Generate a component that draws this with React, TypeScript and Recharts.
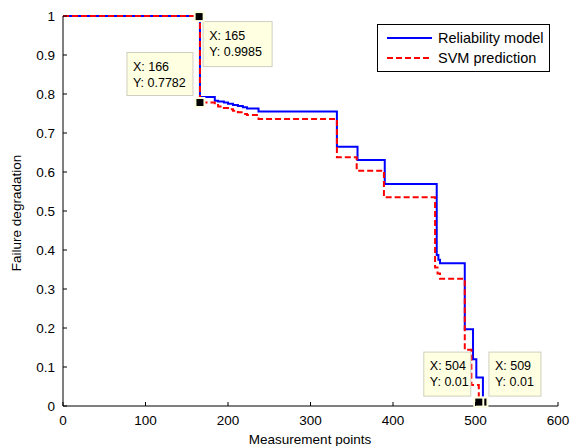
import React from 'react'
import { ComposedChart, Line, Scatter, XAxis, YAxis, Legend, Label } from 'recharts'

const reliabilityX = [0, 165, 166, 184, 188, 195, 200, 206, 212, 218, 223, 237, 332, 357, 390, 453, 455, 457, 487, 497, 501, 509]
const reliabilityY = [1, 0.9985, 0.792, 0.783, 0.781, 0.778, 0.775, 0.772, 0.769, 0.766, 0.763, 0.755, 0.665, 0.631, 0.569, 0.387, 0.375, 0.366, 0.197, 0.12, 0.073, 0.01]

const svmX = [0, 165, 166, 184, 188, 195, 200, 206, 212, 218, 223, 237, 332, 356, 389, 451, 454, 457, 487, 495, 504]
const svmY = [1, 0.9985, 0.7782, 0.772, 0.768, 0.764, 0.761, 0.757, 0.753, 0.749, 0.746, 0.736, 0.638, 0.603, 0.535, 0.355, 0.34, 0.326, 0.144, 0.054, 0.01]

// data tips
const tipX = [165, 166, 509, 504]
const tipY = [0.9985, 0.7782, 0.01, 0.01]

const xTicks = [0, 100, 200, 300, 400, 500, 600]
const xTickLabels = ['0', '100', '200', '300', '400', '500', '600']
const yTicks = [0, 0.1, 0.2, 0.3, 0.4, 0.5, 0.6, 0.7, 0.8, 0.9, 1]
const yTickLabels = ['0', '0.1', '0.2', '0.3', '0.4', '0.5', '0.6', '0.7', '0.8', '0.9', '1']

const seriesNames = ['Reliability model', 'SVM prediction']
const seriesColors = ['#0000ff', '#ff0000']

const reliabilityData = reliabilityX.map((x, i) => ({ x, y: reliabilityY[i] }))
const svmData = svmX.map((x, i) => ({ x, y: svmY[i] }))
const tipData = tipX.map((x, i) => ({ x, y: tipY[i], idx: i }))

const FONT = 'Liberation Sans, Arial, sans-serif'

// box placement of each data tip relative to its marker
const tipBoxes = [
  { dx: 4, dy: 5, w: 69, h: 45 },
  { dx: -73, dy: -50, w: 66, h: 43 },
  { dx: 6, dy: -50, w: 52, h: 44 },
  { dx: -55, dy: -50, w: 47, h: 44 },
]

function BottomTick({ x, y, payload }: any) {
  const i = xTicks.indexOf(payload.value)
  return (
    <g>
      <line x1={x} y1={y} x2={x} y2={y - 4} stroke="#000" />
      <text x={x} y={y + 19} textAnchor="middle" fontSize={13.5} fontFamily={FONT} fill="#000">
        {xTickLabels[i]}
      </text>
    </g>
  )
}

function TopTick({ x, y }: any) {
  return <line x1={x} y1={y} x2={x} y2={y + 4} stroke="#000" />
}

function LeftTick({ x, y, payload }: any) {
  const i = yTicks.indexOf(payload.value)
  return (
    <g>
      <line x1={x} y1={y} x2={x + 4} y2={y} stroke="#000" />
      <text x={x - 8} y={y + 5} textAnchor="end" fontSize={13.5} fontFamily={FONT} fill="#000">
        {yTickLabels[i]}
      </text>
    </g>
  )
}

function RightTick({ x, y }: any) {
  return <line x1={x} y1={y} x2={x - 4} y2={y} stroke="#000" />
}

function DataTip({ cx, cy, payload }: any) {
  const b = tipBoxes[payload.idx]
  const bx = cx + b.dx
  const by = cy + b.dy
  return (
    <g>
      <rect x={bx} y={by} width={b.w} height={b.h} fill="#ffffe1" stroke="#cfcfbf" />
      <text x={bx + 6} y={by + 18} fontSize={12.5} fontFamily={FONT} fill="#000">{'X: ' + payload.x}</text>
      <text x={bx + 6} y={by + 34} fontSize={12.5} fontFamily={FONT} fill="#000">{'Y: ' + payload.y}</text>
      <rect x={cx - 4.5} y={cy - 4.5} width={9} height={9} fill="#000" stroke="#ffffe1" strokeWidth={2} />
    </g>
  )
}

function LegendBox() {
  return (
    <div style={{ width: 173, height: 48, border: '1px solid #000', background: '#fff', boxSizing: 'border-box', fontFamily: FONT, fontSize: 14.5 }}>
      {seriesNames.map((name, i) => (
        <div key={name} style={{ display: 'flex', alignItems: 'center', height: 20, marginTop: i === 0 ? 3 : 0 }}>
          <svg width={56} height={20}>
            <line x1={9} y1={10} x2={54} y2={10} stroke={seriesColors[i]} strokeWidth={2} strokeDasharray={i === 1 ? '6 3' : undefined} />
          </svg>
          <span style={{ marginLeft: 4, color: '#000', whiteSpace: 'nowrap' }}>{name}</span>
        </div>
      ))}
    </div>
  )
}

export default function App() {
  return (
    <div style={{ position: 'absolute', left: 0, top: 0, background: '#fff' }}>
      <ComposedChart width={574} height={446} margin={{ top: 16, right: 16, left: 0, bottom: 0 }}>
        <XAxis
          type="number"
          dataKey="x"
          domain={[0, 600]}
          ticks={xTicks}
          height={40}
          tickSize={0}
          tickMargin={0}
          axisLine={{ stroke: '#000' }}
          tickLine={false}
          tick={<BottomTick />}
        >
          <Label
            content={() => (
              <text x={310} y={444} textAnchor="middle" fontSize={13.5} fontFamily={FONT} fill="#000">
                Measurement points
              </text>
            )}
          />
        </XAxis>
        <XAxis
          xAxisId="top"
          orientation="top"
          type="number"
          dataKey="x"
          domain={[0, 600]}
          ticks={xTicks}
          height={0}
          tickSize={0}
          tickMargin={0}
          axisLine={{ stroke: '#000' }}
          tickLine={false}
          tick={<TopTick />}
        />
        <YAxis
          type="number"
          domain={[0, 1]}
          ticks={yTicks}
          width={63}
          tickSize={0}
          tickMargin={0}
          axisLine={{ stroke: '#000' }}
          tickLine={false}
          tick={<LeftTick />}
        >
          <Label
            content={() => (
              <text x={21} y={213} textAnchor="middle" fontSize={13.5} fontFamily={FONT} fill="#000" transform="rotate(-90 21 213)">
                Failure degradation
              </text>
            )}
          />
        </YAxis>
        <YAxis
          yAxisId="right"
          orientation="right"
          type="number"
          domain={[0, 1]}
          ticks={yTicks}
          width={0}
          tickSize={0}
          tickMargin={0}
          axisLine={{ stroke: '#000' }}
          tickLine={false}
          tick={<RightTick />}
        />
        <Line
          data={reliabilityData}
          dataKey="y"
          name={seriesNames[0]}
          type="stepAfter"
          stroke={seriesColors[0]}
          strokeWidth={2}
          dot={false}
          isAnimationActive={false}
        />
        <Line
          data={svmData}
          dataKey="y"
          name={seriesNames[1]}
          type="stepAfter"
          stroke={seriesColors[1]}
          strokeWidth={2}
          strokeDasharray="6 3"
          dot={false}
          isAnimationActive={false}
        />
        <Scatter data={tipData} dataKey="y" shape={<DataTip />} isAnimationActive={false} legendType="none" />
        <Legend
          layout="vertical"
          align="center"
          verticalAlign="middle"
          content={() => <LegendBox />}
          wrapperStyle={{ position: 'absolute', left: 377, top: 24, width: 173, height: 48, margin: 0 }}
        />
      </ComposedChart>
    </div>
  )
}
